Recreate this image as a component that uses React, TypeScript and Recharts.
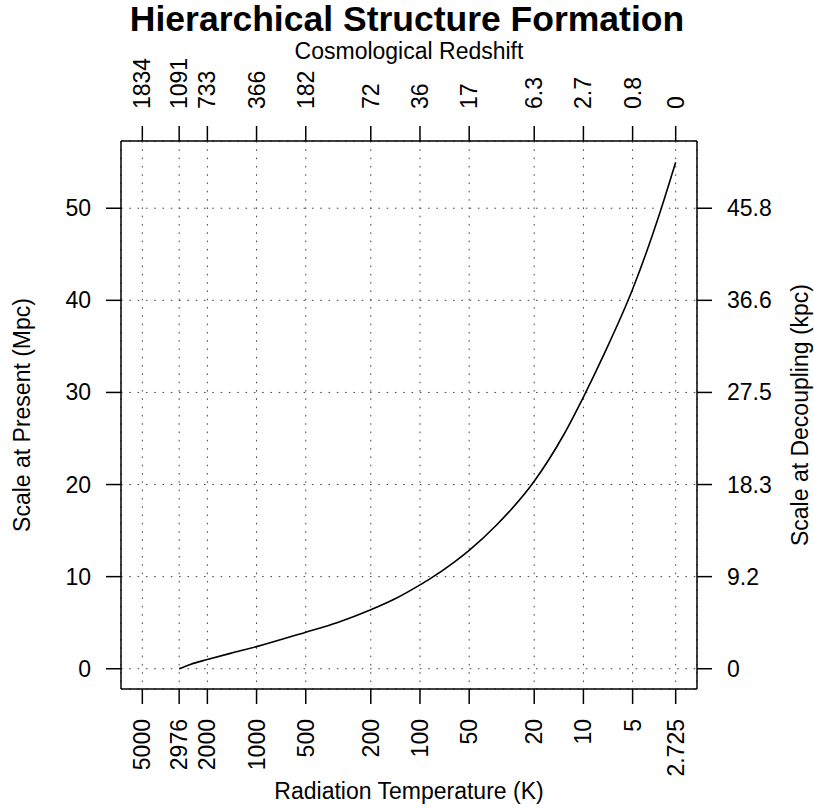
import { LineChart, Line, XAxis, YAxis, CartesianGrid } from 'recharts';

// curve: radiation temperature (K) -> scale at present (Mpc)
const temperatureK = [2976, 2544, 2000, 1449, 1000, 500, 322, 200, 138, 100, 87, 62, 50, 34, 20, 13.25, 10, 7.55, 5, 4.1, 3.48, 2.725];
const scaleMpc = [0, 0.47, 1.0, 1.67, 2.4, 3.97, 5.0, 6.4, 7.7, 9.1, 9.75, 11.55, 12.85, 15.6, 20.35, 25.35, 29.5, 34.0, 41.2, 45.3, 49.0, 55.0];

const tempTicks = [5000, 2976, 2000, 1000, 500, 200, 100, 50, 20, 10, 5, 2.725];
const tempTickLabels = ['5000', '2976', '2000', '1000', '500', '200', '100', '50', '20', '10', '5', '2.725'];
const redshiftLabels = ['1834', '1091', '733', '366', '182', '72', '36', '17', '6.3', '2.7', '0.8', '0'];
const presentTicks = [0, 10, 20, 30, 40, 50];
const decouplingLabels = ['0', '9.2', '18.3', '27.5', '36.6', '45.8'];

const data = temperatureK.map((t, i) => ({ temp: t, scale: scaleMpc[i] }));

const W = 814;
const H = 809;
const FONT = '"Liberation Sans", Arial, Helvetica, sans-serif';
const FS = 23;
// R pads each axis range by 4%
const X_DOMAIN = [2.018, 6753];
const Y_DOMAIN = [-2.2, 57.3];

const axisStroke = { stroke: '#000', strokeWidth: 1.5 };

const labelFor = (ticks: number[], labels: string[], v: number) => {
  const i = ticks.findIndex((t) => Math.abs(t - v) < 1e-6);
  return i >= 0 ? labels[i] : String(v);
};

const BottomTick = (props: any) => {
  const { x, y, payload } = props;
  return (
    <text x={x} y={y} transform={`rotate(-90, ${x}, ${y})`} textAnchor="end" dominantBaseline="central" fontSize={FS} fill="#000" fontFamily={FONT}>
      {labelFor(tempTicks, tempTickLabels, payload.value)}
    </text>
  );
};

const TopTick = (props: any) => {
  const { x, y, payload } = props;
  return (
    <text x={x} y={y} transform={`rotate(-90, ${x}, ${y})`} textAnchor="start" dominantBaseline="central" fontSize={FS} fill="#000" fontFamily={FONT}>
      {labelFor(tempTicks, redshiftLabels, payload.value)}
    </text>
  );
};

const LeftTick = (props: any) => {
  const { x, y, payload } = props;
  return (
    <text x={x} y={y} textAnchor="end" dominantBaseline="central" fontSize={FS} fill="#000" fontFamily={FONT}>
      {payload.value}
    </text>
  );
};

const RightTick = (props: any) => {
  const { x, y, payload } = props;
  return (
    <text x={x} y={y} textAnchor="start" dominantBaseline="central" fontSize={FS} fill="#000" fontFamily={FONT}>
      {labelFor(presentTicks, decouplingLabels, payload.value)}
    </text>
  );
};

const title = (text: string, x: number, y: number, angle = 0) => () => (
  <text
    x={x}
    y={y}
    transform={angle ? `rotate(${angle}, ${x}, ${y})` : undefined}
    textAnchor="middle"
    dominantBaseline="central"
    fontSize={FS}
    fill="#000"
    fontFamily={FONT}
  >
    {text}
  </text>
);

export default function App() {
  return (
    <div style={{ position: 'absolute', left: 0, top: 0, width: W, height: H, background: '#fff', fontFamily: FONT }}>
      <div
        style={{
          position: 'absolute',
          top: 0,
          left: 0,
          width: W,
          textAlign: 'center',
          fontSize: 35.5,
          lineHeight: '39.7px',
          fontWeight: 'bold',
          color: '#000',
        }}
      >
        Hierarchical Structure Formation
      </div>
      <LineChart width={W} height={H} data={data} margin={{ top: 0, right: 0, bottom: 0, left: 0 }}>
        <CartesianGrid xAxisId="bottom" yAxisId="left" stroke="#444" strokeWidth={1} strokeDasharray="1.6 6.7" />
        <XAxis
          xAxisId="bottom"
          dataKey="temp"
          type="number"
          scale="log"
          reversed
          domain={X_DOMAIN}
          allowDataOverflow
          ticks={tempTicks}
          interval={0}
          height={120}
          tickSize={15}
          tickMargin={15}
          axisLine={axisStroke}
          tickLine={axisStroke}
          tick={<BottomTick />}
          label={title('Radiation Temperature (K)', 409, 791)}
        />
        <XAxis
          xAxisId="top"
          orientation="top"
          dataKey="temp"
          type="number"
          scale="log"
          reversed
          domain={X_DOMAIN}
          allowDataOverflow
          ticks={tempTicks}
          interval={0}
          height={141}
          tickSize={15}
          tickMargin={17}
          axisLine={axisStroke}
          tickLine={axisStroke}
          tick={<TopTick />}
          label={title('Cosmological Redshift', 409, 51)}
        />
        <YAxis
          yAxisId="left"
          type="number"
          domain={Y_DOMAIN}
          allowDataOverflow
          ticks={presentTicks}
          interval={0}
          width={121}
          tickSize={15}
          tickMargin={15}
          axisLine={axisStroke}
          tickLine={axisStroke}
          tick={<LeftTick />}
          label={title('Scale at Present (Mpc)', 22, 415, -90)}
        />
        <YAxis
          yAxisId="right"
          orientation="right"
          type="number"
          domain={Y_DOMAIN}
          allowDataOverflow
          ticks={presentTicks}
          interval={0}
          width={117}
          tickSize={15}
          tickMargin={15}
          axisLine={axisStroke}
          tickLine={axisStroke}
          tick={<RightTick />}
          label={title('Scale at Decoupling (kpc)', 800, 415, -90)}
        />
        <Line
          xAxisId="bottom"
          yAxisId="left"
          type="monotone"
          dataKey="scale"
          stroke="#000"
          strokeWidth={1.6}
          dot={false}
          isAnimationActive={false}
        />
      </LineChart>
    </div>
  );
}
